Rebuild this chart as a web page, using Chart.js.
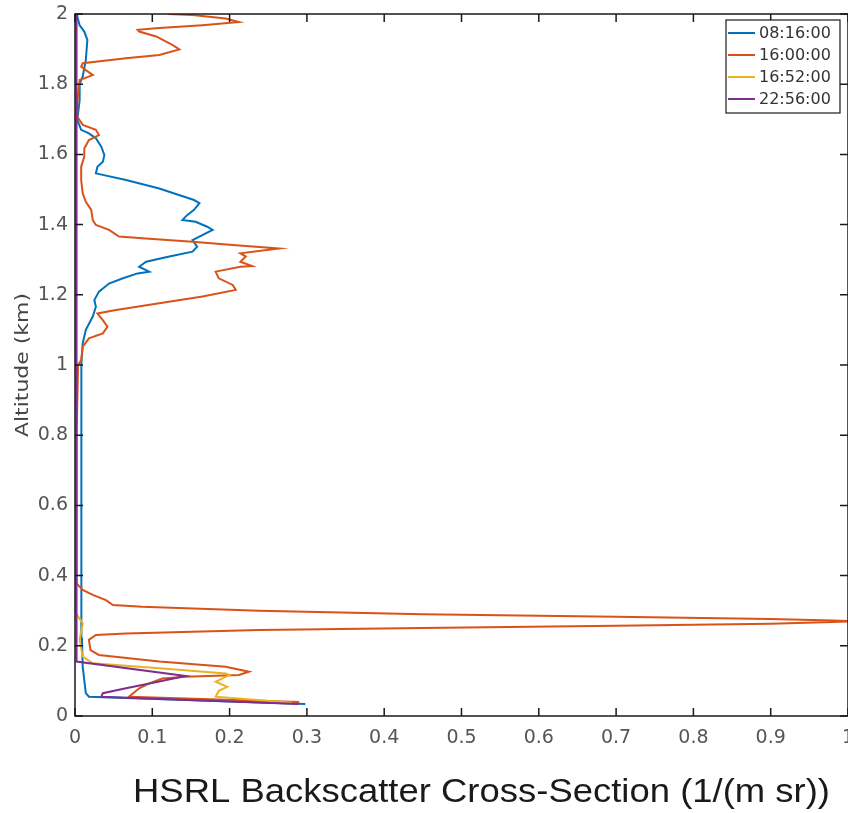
<!DOCTYPE html>
<html><head><meta charset="utf-8">
<script src="https://cdn.jsdelivr.net/npm/chart.js@4.4.1/dist/chart.umd.min.js"></script>
<style>html,body{margin:0;padding:0;background:#fff;overflow:hidden}</style>
</head><body>
<canvas id="c" width="848" height="813"></canvas>
<script>
const seriesLabels = ['08:16:00', '16:00:00', '16:52:00', '22:56:00'];
const seriesColors = ['#0072BD', '#D95319', '#EDB120', '#7E2F8E'];

const xTicks = [0, 0.1, 0.2, 0.3, 0.4, 0.5, 0.6, 0.7, 0.8, 0.9, 1];
const xTickLabels = ['0', '0.1', '0.2', '0.3', '0.4', '0.5', '0.6', '0.7', '0.8', '0.9', '1'];
const yTicks = [0, 0.2, 0.4, 0.6, 0.8, 1, 1.2, 1.4, 1.6, 1.8, 2];
const yTickLabels = ['0', '0.2', '0.4', '0.6', '0.8', '1', '1.2', '1.4', '1.6', '1.8', '2'];

const xTitle = 'HSRL Backscatter Cross-Section (1/(m sr))';
const yTitle = 'Altitude (km)';

// 08:16:00
const blueAlt = [0.034, 0.055, 0.065, 0.14, 0.22, 0.4, 0.6, 0.8, 1.005, 1.062, 1.10, 1.138, 1.166, 1.185, 1.209, 1.232, 1.247, 1.261, 1.266, 1.280, 1.294, 1.309, 1.323, 1.337, 1.356, 1.385, 1.394, 1.408, 1.413, 1.427, 1.442, 1.461, 1.470, 1.503, 1.527, 1.546, 1.565, 1.579, 1.598, 1.622, 1.646, 1.660, 1.670, 1.698, 1.755, 1.80, 1.822, 1.869, 1.926, 1.95, 1.968, 1.992, 2.0];
const blueVal = [0.298, 0.018, 0.014, 0.010, 0.009, 0.009, 0.008, 0.008, 0.008, 0.010, 0.014, 0.023, 0.027, 0.025, 0.031, 0.044, 0.062, 0.081, 0.096, 0.083, 0.092, 0.122, 0.152, 0.158, 0.152, 0.178, 0.171, 0.156, 0.139, 0.145, 0.154, 0.161, 0.154, 0.109, 0.066, 0.027, 0.029, 0.036, 0.038, 0.034, 0.027, 0.018, 0.008, 0.003, 0.006, 0.006, 0.010, 0.014, 0.016, 0.012, 0.006, 0.003, 0.003];

// 16:00:00
const orangeAlt = [0.04, 0.055, 0.079, 0.093, 0.107, 0.112, 0.117, 0.126, 0.14, 0.155, 0.174, 0.188, 0.217, 0.231, 0.235, 0.245, 0.251, 0.257, 0.263, 0.268, 0.27, 0.272, 0.276, 0.283, 0.29, 0.30, 0.311, 0.316, 0.33, 0.345, 0.359, 0.378, 0.45, 0.6, 0.8, 1.0, 1.014, 1.052, 1.076, 1.09, 1.109, 1.128, 1.147, 1.157, 1.176, 1.195, 1.214, 1.228, 1.247, 1.266, 1.280, 1.282, 1.294, 1.309, 1.318, 1.332, 1.342, 1.351, 1.361, 1.366, 1.385, 1.399, 1.413, 1.442, 1.465, 1.489, 1.527, 1.565, 1.594, 1.617, 1.641, 1.655, 1.670, 1.684, 1.707, 1.75, 1.812, 1.826, 1.84, 1.85, 1.86, 1.874, 1.883, 1.899, 1.912, 1.936, 1.95, 1.955, 1.96, 1.968, 1.977, 1.987, 1.997, 2.0];
const orangeVal = [0.29, 0.07, 0.083, 0.096, 0.113, 0.143, 0.212, 0.225, 0.195, 0.109, 0.031, 0.02, 0.018, 0.027, 0.066, 0.238, 0.45, 0.7, 0.9, 0.98, 1.01, 0.98, 0.9, 0.7, 0.45, 0.238, 0.087, 0.049, 0.04, 0.023, 0.01, 0.002, 0.002, 0.002, 0.002, 0.004, 0.008, 0.010, 0.018, 0.036, 0.042, 0.036, 0.029, 0.053, 0.109, 0.165, 0.208, 0.204, 0.186, 0.182, 0.214, 0.229, 0.214, 0.221, 0.214, 0.264, 0.204, 0.152, 0.087, 0.057, 0.044, 0.027, 0.023, 0.021, 0.014, 0.010, 0.008, 0.008, 0.012, 0.012, 0.018, 0.031, 0.027, 0.010, 0.003, 0.003, 0.006, 0.023, 0.014, 0.008, 0.010, 0.066, 0.109, 0.135, 0.126, 0.105, 0.083, 0.081, 0.109, 0.165, 0.212, 0.195, 0.152, 0.12];

// 16:52:00
const yellowAlt = [0.038, 0.055, 0.072, 0.083, 0.098, 0.117, 0.121, 0.136, 0.15, 0.169, 0.217, 0.264, 0.293, 0.4, 0.8, 1.2, 1.6, 2.0];
const yellowVal = [0.281, 0.182, 0.186, 0.197, 0.182, 0.2, 0.195, 0.109, 0.023, 0.010, 0.006, 0.010, 0.001, 0.001, 0.001, 0.001, 0.001, 0.001];

// 22:56:00
const purpleAlt = [0.034, 0.055, 0.065, 0.079, 0.098, 0.114, 0.155, 0.3, 0.6, 1.0, 1.4, 1.8, 2.0];
const purpleVal = [0.29, 0.034, 0.036, 0.066, 0.109, 0.143, 0.002, 0.002, 0.002, 0.002, 0.002, 0.002, 0.002];

const toPoints = (vals, alts) => vals.map((v, i) => ({ x: v, y: alts[i] }));
const seriesData = [
  toPoints(blueVal, blueAlt),
  toPoints(orangeVal, orangeAlt),
  toPoints(yellowVal, yellowAlt),
  toPoints(purpleVal, purpleAlt)
];

const labelFor = (ticks, labels) => (v) => {
  const i = ticks.findIndex(t => Math.abs(t - v) < 1e-9);
  return i >= 0 ? labels[i] : '';
};

const framePlugin = {
  id: 'frame',
  afterDraw(chart) {
    const { ctx, chartArea: a, scales: { x, y } } = chart;
    ctx.save();
    ctx.strokeStyle = '#1a1a1a';
    ctx.lineWidth = 1.5;
    ctx.strokeRect(a.left, a.top, a.right - a.left, a.bottom - a.top);
    const tl = 8;
    ctx.beginPath();
    xTicks.forEach(v => {
      const px = x.getPixelForValue(v);
      ctx.moveTo(px, a.bottom); ctx.lineTo(px, a.bottom - tl);
      ctx.moveTo(px, a.top); ctx.lineTo(px, a.top + tl);
    });
    yTicks.forEach(v => {
      const py = y.getPixelForValue(v);
      ctx.moveTo(a.left, py); ctx.lineTo(a.left + tl, py);
      ctx.moveTo(a.right, py); ctx.lineTo(a.right - tl, py);
    });
    ctx.stroke();

    // legend
    const lx = 726, ly = a.top + 6, lw = 114, lh = 93;
    ctx.fillStyle = '#fff';
    ctx.fillRect(lx, ly, lw, lh);
    ctx.lineWidth = 1.2;
    ctx.strokeStyle = '#1a1a1a';
    ctx.strokeRect(lx, ly, lw, lh);
    ctx.font = '16px "DejaVu Sans"';
    ctx.textBaseline = 'middle';
    ctx.textAlign = 'left';
    chart.data.datasets.forEach((ds, i) => {
      const ey = ly + 13 + i * 22;
      ctx.strokeStyle = ds.borderColor;
      ctx.lineWidth = 2;
      ctx.beginPath();
      ctx.moveTo(lx + 2, ey); ctx.lineTo(lx + 29, ey);
      ctx.stroke();
      ctx.fillStyle = '#333';
      ctx.fillText(ds.label, lx + 33, ey + 1);
    });

    // x title
    ctx.font = '33px "Liberation Sans"';
    ctx.fillStyle = '#1a1a1a';
    ctx.textAlign = 'center';
    ctx.textBaseline = 'alphabetic';
    const wx = ctx.measureText(xTitle).width;
    ctx.save();
    ctx.translate(481.5, 802);
    ctx.scale(697 / wx, 1);
    ctx.fillText(xTitle, 0, 0);
    ctx.restore();

    // y title
    ctx.font = '18px "DejaVu Sans"';
    ctx.fillStyle = '#444';
    ctx.textBaseline = 'middle';
    const wy = ctx.measureText(yTitle).width;
    ctx.save();
    ctx.translate(23, 365);
    ctx.rotate(-Math.PI / 2);
    ctx.scale(144 / wy, 1);
    ctx.fillText(yTitle, 0, 0);
    ctx.restore();

    ctx.restore();
  }
};

new Chart(document.getElementById('c'), {
  type: 'scatter',
  data: {
    datasets: seriesData.map((d, i) => ({
      label: seriesLabels[i],
      data: d,
      showLine: true,
      borderColor: seriesColors[i],
      backgroundColor: seriesColors[i],
      borderWidth: 2,
      pointRadius: 0,
      pointHoverRadius: 0,
      tension: 0,
      fill: false,
      order: 3 - i
    }))
  },
  options: {
    responsive: false,
    animation: false,
    events: [],
    layout: { padding: { top: 14, right: 0, bottom: 0, left: 0 }, autoPadding: false },
    plugins: { legend: { display: false }, tooltip: { enabled: false }, title: { display: false } },
    scales: {
      x: {
        type: 'linear', min: 0, max: 1,
        afterBuildTicks: s => { s.ticks = xTicks.map(v => ({ value: v })); },
        afterFit: s => { s.height = 97; s.paddingRight = 0; s.paddingLeft = 0; },
        grid: { display: false, drawTicks: false },
        border: { display: false },
        ticks: {
          autoSkip: false, maxRotation: 0, padding: 11,
          color: '#555', font: { family: 'DejaVu Sans', size: 19 },
          callback: labelFor(xTicks, xTickLabels)
        }
      },
      y: {
        type: 'linear', min: 0, max: 2,
        afterBuildTicks: s => { s.ticks = yTicks.map(v => ({ value: v })); },
        afterFit: s => { s.width = 75; s.paddingTop = 0; s.paddingBottom = 0; },
        grid: { display: false, drawTicks: false },
        border: { display: false },
        ticks: {
          autoSkip: false, padding: 7,
          color: '#555', font: { family: 'DejaVu Sans', size: 19 },
          callback: labelFor(yTicks, yTickLabels)
        }
      }
    }
  },
  plugins: [framePlugin]
});
</script>
</body></html>
